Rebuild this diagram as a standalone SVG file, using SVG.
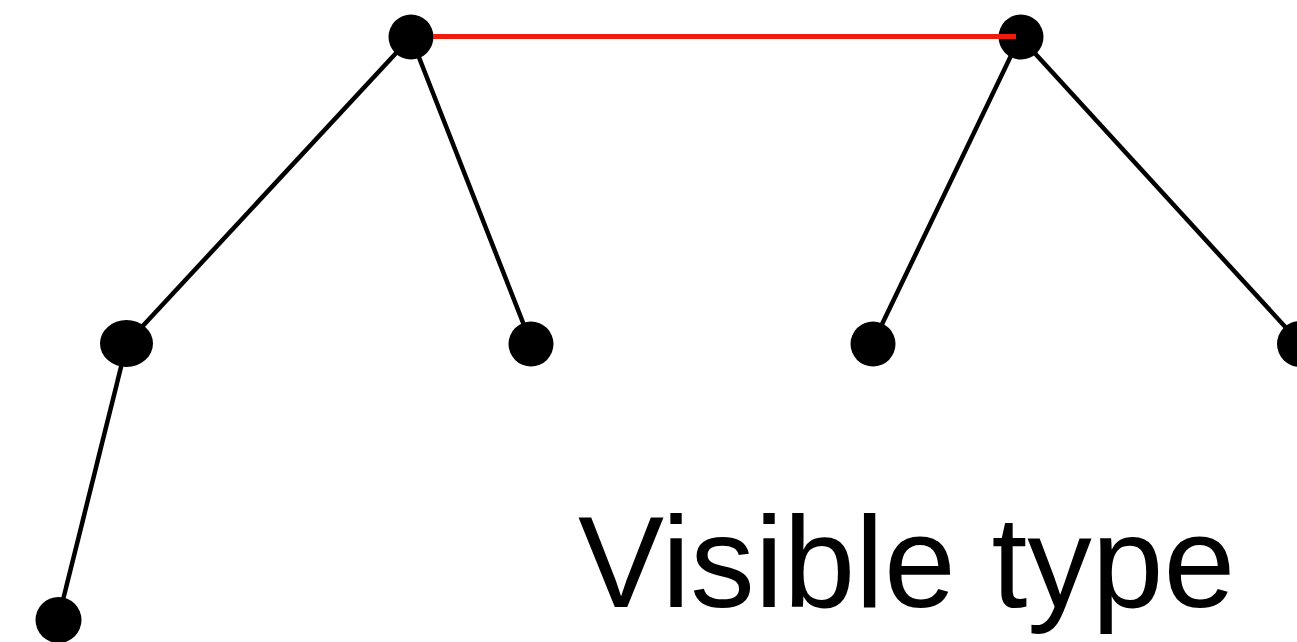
<svg xmlns="http://www.w3.org/2000/svg" width="1297" height="642" viewBox="0 0 1297 642">
<style>
.edge{stroke:#000;stroke-width:4.5;fill:none}
.red{stroke:#ee1c0c;stroke-width:5;fill:none}
.node{fill:#000}
.label{font-family:"Liberation Sans",Arial,sans-serif;font-size:129px;fill:#000}
</style>
<rect width="1297" height="642" fill="#fff"/>
<g id="connectors">
<line class="edge" x1="411" y1="37" x2="127" y2="343"/>
<line class="edge" x1="411" y1="37" x2="531" y2="343"/>
<line class="edge" x1="127" y1="343" x2="58" y2="620"/>
<line class="edge" x1="1020" y1="37" x2="873" y2="343"/>
<line class="edge" x1="1020" y1="37" x2="1300" y2="343"/>
</g>
<g id="n1"><circle class="node" cx="411" cy="37" r="22.5"/></g>
<g id="n2"><circle class="node" cx="1021" cy="37" r="22.5"/></g>
<g id="n3"><ellipse class="node" cx="126.5" cy="343.5" rx="26.5" ry="23.5"/></g>
<g id="n4"><circle class="node" cx="531" cy="344" r="22.5"/></g>
<g id="n5"><circle class="node" cx="873" cy="344" r="22.5"/></g>
<g id="n6"><circle class="node" cx="1300" cy="344" r="23"/></g>
<g id="n7"><circle class="node" cx="58.5" cy="620" r="23"/></g>
<g id="red-connector"><line class="red" x1="433" y1="36.5" x2="1016" y2="36.5"/></g>
<text class="label" x="578" y="607">Visible type</text>
</svg>
